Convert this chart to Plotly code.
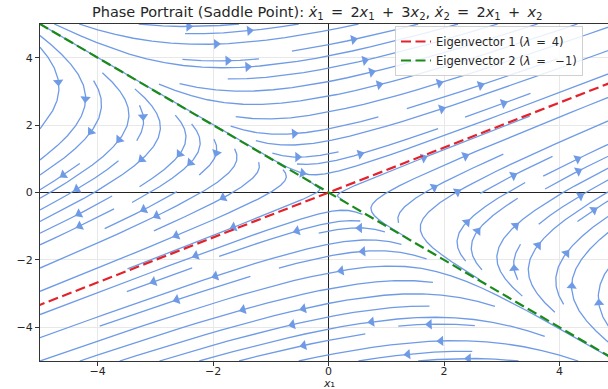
import numpy as np
import plotly.graph_objects as go

# ---- data ----
A = [[2, 3], [2, 1]]                 # system matrix: x1' = 2x1 + 3x2, x2' = 2x1 + x2
eigenvalues = [4, -1]
eigvec1 = [1.0, 2.0 / 3.0]           # lambda = 4
eigvec2 = [1.0, -1.0]                # lambda = -1
x_limits = [-5, 5]
y_limits = [-5, 5]
x_view = [-5, 4.84]
x_ticks = [-4, -2, 0, 2, 4]
y_ticks = [-4, -2, 0, 2, 4]
line_t = [-10, 10]
density = 1.0

W = x_limits[1] - x_limits[0]
H = y_limits[1] - y_limits[0]


class OOB(Exception):
    pass


class Term(Exception):
    pass


class Invalid(Exception):
    pass


def field(X, Y):
    x = x_limits[0] + X * W
    y = y_limits[0] + Y * H
    u = A[0][0] * x + A[0][1] * y
    v = A[1][0] * x + A[1][1] * y
    return u / W, v / H


def streamplot():
    nm = int(30 * density)
    mask = np.zeros((nm, nm), dtype=int)
    st = {"cur": None, "traj": []}

    def within(X, Y):
        return 0 <= X <= 1 and 0 <= Y <= 1

    def g2m(X, Y):
        return int(X * (nm - 1) + 0.5), int(Y * (nm - 1) + 0.5)

    def upd(X, Y):
        if not within(X, Y):
            raise Invalid
        xm, ym = g2m(X, Y)
        if st["cur"] != (xm, ym):
            if mask[ym, xm] == 0:
                st["traj"].append((ym, xm))
                mask[ym, xm] = 1
                st["cur"] = (xm, ym)
            else:
                raise Invalid

    def f(X, Y, sgn):
        if not within(X, Y):
            raise OOB
        U, V = field(X, Y)
        s = np.hypot(U, V)
        if s == 0:
            raise Term
        return sgn * U / s, sgn * V / s

    def rk12(X0, Y0, sgn, maxlength=4.0):
        maxerror = 0.003
        maxds = min(1.0 / nm, 0.1)
        ds = maxds
        stotal = 0.0
        xi, yi = X0, Y0
        traj = []
        while True:
            try:
                if within(xi, yi):
                    traj.append((xi, yi))
                else:
                    raise OOB
                k1x, k1y = f(xi, yi, sgn)
                k2x, k2y = f(xi + ds * k1x, yi + ds * k1y, sgn)
            except OOB:
                if traj:
                    xl, yl = traj[-1]
                    try:
                        cx, cy = f(xl, yl, sgn)
                        dsx = np.inf if cx == 0 else (xl / -cx if cx < 0 else (1 - xl) / cx)
                        dsy = np.inf if cy == 0 else (yl / -cy if cy < 0 else (1 - yl) / cy)
                        d = min(dsx, dsy)
                        traj.append((xl + cx * d, yl + cy * d))
                        stotal += d
                    except (OOB, Term):
                        pass
                break
            except Term:
                break
            dx1, dy1 = ds * k1x, ds * k1y
            dx2, dy2 = ds * 0.5 * (k1x + k2x), ds * 0.5 * (k1y + k2y)
            err = np.hypot(dx2 - dx1, dy2 - dy1)
            if err < maxerror:
                xi += dx2
                yi += dy2
                try:
                    upd(xi, yi)
                except Invalid:
                    break
                if stotal + ds > maxlength:
                    break
                stotal += ds
            if err == 0:
                ds = maxds
            else:
                ds = min(maxds, 0.85 * ds * (maxerror / err) ** 0.5)
        return stotal, traj

    def integrate(X0, Y0):
        st["traj"] = []
        try:
            upd_start = g2m(X0, Y0)
            st["cur"] = None
            upd(X0, Y0)
        except Invalid:
            return None
        stotal = 0.0
        s, tb = rk12(X0, Y0, -1)
        stotal += s
        traj = tb[::-1]
        st["cur"] = upd_start
        s, tf = rk12(X0, Y0, 1)
        stotal += s
        traj += tf[1:]
        if stotal > 0.1:
            return traj
        for t in st["traj"]:
            mask[t] = 0
        return None

    def seeds(nx, ny):
        xfirst, yfirst, xlast, ylast = 0, 1, nx - 1, ny - 1
        x, y = 0, 0
        d = "right"
        for _ in range(nx * ny):
            yield x, y
            if d == "right":
                x += 1
                if x >= xlast:
                    xlast -= 1
                    d = "up"
            elif d == "up":
                y += 1
                if y >= ylast:
                    ylast -= 1
                    d = "left"
            elif d == "left":
                x -= 1
                if x <= xfirst:
                    xfirst += 1
                    d = "down"
            else:
                y -= 1
                if y <= yfirst:
                    yfirst += 1
                    d = "right"

    out = []
    for xm, ym in seeds(nm, nm):
        if mask[ym, xm] == 0:
            t = integrate(xm / (nm - 1), ym / (nm - 1))
            if t is not None and len(t) > 1:
                out.append(t)
    return out


trajs = streamplot()

FIG_W, FIG_H = 608, 389
ML, MR, MT, MB = 40, 0, 24, 28
PLOT_W, PLOT_H = FIG_W - ML - MR, FIG_H - MT - MB
sx = PLOT_W / (x_view[1] - x_view[0])
sy = PLOT_H / (y_limits[1] - y_limits[0])

lx, ly, ax_, ay_, ang = [], [], [], [], []
for t in trajs:
    arr = np.array(t)
    tx = x_limits[0] + arr[:, 0] * W
    ty = y_limits[0] + arr[:, 1] * H
    lx += list(tx) + [None]
    ly += list(ty) + [None]
    s = np.cumsum(np.hypot(np.diff(tx), np.diff(ty)))
    n = int(np.searchsorted(s, s[-1] / 2.0))
    n = min(n, len(tx) - 2)
    hx, hy = np.mean(tx[n:n + 2]), np.mean(ty[n:n + 2])
    dx, dy = (hx - tx[n]) * sx, (hy - ty[n]) * sy
    L = np.hypot(dx, dy)
    if L == 0:
        continue
    back = 2.5
    ax_.append(hx - dx / L * back / sx)
    ay_.append(hy - dy / L * back / sy)
    ang.append(float(np.degrees(np.arctan2(dx, dy))))

STREAM = "#6f9be6"
fig = go.Figure()
fig.add_trace(go.Scatter(x=lx, y=ly, mode="lines", line=dict(color=STREAM, width=1.3),
                         hoverinfo="skip", showlegend=False))
fig.add_trace(go.Scatter(x=ax_, y=ay_, mode="markers",
                         marker=dict(symbol="triangle-up", size=9, color=STREAM, angle=ang,
                                     line=dict(width=0)),
                         hoverinfo="skip", showlegend=False))

fig.add_trace(go.Scatter(x=[line_t[0] * eigvec1[0], line_t[1] * eigvec1[0]],
                         y=[line_t[0] * eigvec1[1], line_t[1] * eigvec1[1]],
                         mode="lines", line=dict(color="#e3232b", width=2.2, dash="10px,4.5px"),
                         name="Eigenvector 1 (<i>λ</i>\u2002=\u20024)"))
fig.add_trace(go.Scatter(x=[line_t[0] * eigvec2[0], line_t[1] * eigvec2[0]],
                         y=[line_t[0] * eigvec2[1], line_t[1] * eigvec2[1]],
                         mode="lines", line=dict(color="#1a8a1a", width=2.2, dash="10px,4.5px"),
                         name="Eigenvector 2 (<i>λ</i>\u2002=\u2002 −1)"))

FONT = "DejaVu Sans"
TXT = "#262626"
sp = "\u2002"
fig.update_layout(
    width=FIG_W, height=FIG_H, autosize=False,
    margin=dict(l=ML, r=MR, t=MT, b=MB, pad=0),
    paper_bgcolor="white", plot_bgcolor="white",
    font=dict(family=FONT, size=11, color=TXT),
    title=dict(
        text=f"Phase Portrait (Saddle Point): <i>ẋ</i><sub>1</sub>{sp}={sp}2<i>x</i><sub>1</sub>{sp}+{sp}3<i>x</i><sub>2</sub>, "
             f"<i>ẋ</i><sub>2</sub>{sp}={sp}2<i>x</i><sub>1</sub>{sp}+{sp}<i>x</i><sub>2</sub>",
        x=92 / FIG_W, xanchor="left", xref="container",
        y=1 - 12 / FIG_H, yanchor="middle", yref="container",
        font=dict(family=FONT, size=14.5, color=TXT)),
    legend=dict(x=(395 - ML) / PLOT_W, xanchor="left", y=(361 - 26) / PLOT_H, yanchor="top",
                bgcolor="rgba(255,255,255,0.85)", bordercolor="#d0d0d0", borderwidth=1,
                font=dict(family=FONT, size=11.5, color=TXT), itemwidth=30,
                tracegroupgap=0),
    showlegend=True,
)
fig.update_xaxes(range=x_view, tickvals=x_ticks, ticktext=[("−" + str(-v)) if v < 0 else str(v) for v in x_ticks],
                 automargin=False, ticklabelstandoff=-4,
                 showgrid=True, gridcolor="#e8e8e8", gridwidth=1,
                 zeroline=True, zerolinecolor="#222", zerolinewidth=1.2,
                 showline=True, linecolor="#333", linewidth=1, mirror=True,
                 ticks="outside", ticklen=4, tickcolor="#333")
fig.update_yaxes(range=y_limits, tickvals=y_ticks, ticktext=[("−" + str(-v)) if v < 0 else str(v) for v in y_ticks],
                 automargin=False,
                 showgrid=True, gridcolor="#e8e8e8", gridwidth=1,
                 zeroline=True, zerolinecolor="#222", zerolinewidth=1.2,
                 showline=True, linecolor="#333", linewidth=1, mirror=False,
                 ticks="outside", ticklen=4, tickcolor="#333")
fig.add_annotation(text="<i>x</i>₁", x=0, xref="x", y=0, yref="paper",
                   yshift=-22, yanchor="middle", showarrow=False,
                   font=dict(family=FONT, size=11, color=TXT))

fig.write_html("out.html", config={"displayModeBar": False},
               post_script="document.body.style.margin='0px';")
